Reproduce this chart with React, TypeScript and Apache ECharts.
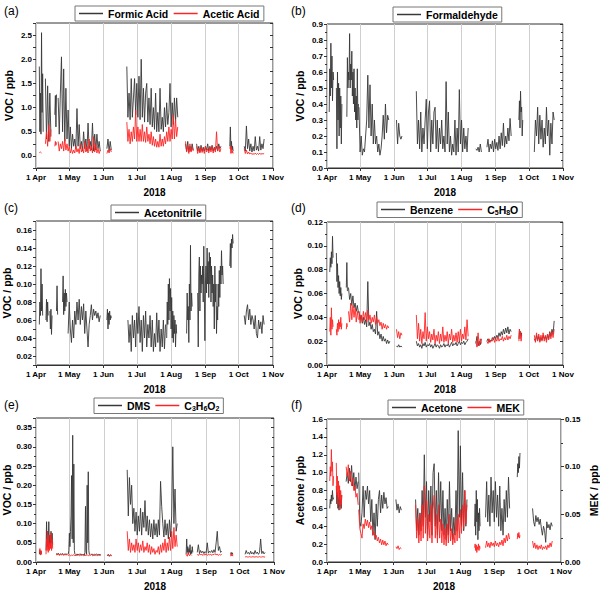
import { useEffect, useRef } from 'react';
import * as echarts from 'echarts';

// each segment: [start day after 1 Apr 2018, step in days, values]
type Seg = [number, number, number[]];

const monthNames = ['Jan', 'Feb', 'Mar', 'Apr', 'May', 'Jun', 'Jul', 'Aug', 'Sep', 'Oct', 'Nov', 'Dec'];
const panelTitles = ['(a)', '(b)', '(c)', '(d)', '(e)', '(f)'];

const formicAcid: Seg[] = [
  [3, 0.5, [1.85, 0.5, 1.3, 0.45, 2.55, 0.9, 1.7, 0.5]],
  [8.5, 1, [1.6, 0.35, 1.45, 0.3, 1.3, 0.4]],
  [17, 0.5, [0.85, 1.25, 0.6, 1.27]],
  [20, 1, [1.2, 0.45, 1.3, 2.05, 0.5, 1.8, 0.3, 1.4, 0.35, 0.95, 0.2, 0.6, 0.15, 0.45, 0.2, 0.35, 0.15, 0.98, 0.2, 0.65, 0.15, 0.3, 0.1, 0.5, 0.15, 0.35, 0.1, 0.68, 0.15, 0.3, 0.12, 0.68, 0.1, 0.45, 0.12, 0.45, 0.15, 0.3, 0.1]],
  [64, 1, [0.15, 0.35, 0.1, 0.3, 0.12]],
  [82, 1, [1.85, 0.8, 1.3, 0.75, 1.6, 0.8, 1.2, 1.6, 0.85, 1.5, 0.8, 1.65, 0.75, 2.0, 0.8, 1.4, 0.7, 1.3, 1.5, 0.7, 1.2, 0.65, 1.4, 0.6, 1.0, 0.55, 1.3, 0.5, 0.9, 0.5, 1.4, 0.55, 0.8, 0.5, 1.0, 0.6, 1.1, 0.65, 0.9, 1.5, 0.6, 1.1, 0.65, 1.2, 0.7, 1.2, 0.8]],
  [135, 1, [0.25, 0.1, 0.3, 0.08, 0.2, 0.1, 0.25, 0.12]],
  [145, 1, [0.25, 0.1, 0.2, 0.08, 0.22, 0.1, 0.18, 0.1, 0.2, 0.12, 0.25, 0.1, 0.2, 0.12, 0.22, 0.1, 0.18, 0.12, 0.2, 0.1, 0.25, 0.15, 0.2]],
  [175, 0.5, [0.2, 0.6, 0.15, 0.3, 0.12, 0.2, 0.1]],
  [188, 1, [0.2, 0.1, 0.62, 0.15, 0.35, 0.1, 0.25, 0.08, 0.2, 0.1, 0.4, 0.12, 0.2, 0.1, 0.4, 0.12, 0.25, 0.15, 0.35]],
];

const aceticAcid: Seg[] = [
  [3, 1, [0.07, 0.08, 0.06]],
  [8.5, 1, [0.25, 0.5, 0.2, 0.65, 0.3, 0.55]],
  [17, 0.5, [0.2, 0.3, 0.22, 0.28]],
  [20, 1, [0.3, 0.1, 0.25, 0.15, 0.3, 0.1, 0.35, 0.12, 0.25, 0.1, 0.2, 0.06, 0.15, 0.05, 0.12, 0.06, 0.2, 0.08, 0.15, 0.05, 0.25, 0.08, 0.15, 0.06, 0.3, 0.08, 0.2, 0.06, 0.35, 0.1, 0.2, 0.06, 0.4, 0.08, 0.25, 0.06, 0.15, 0.05, 0.12]],
  [64, 1, [0.05, 0.12, 0.06, 0.15, 0.08]],
  [82, 1, [0.7, 0.3, 0.55, 0.25, 0.5, 0.3, 0.6, 0.35, 0.95, 0.3, 0.6, 0.3, 0.55, 0.3, 0.65, 0.3, 0.5, 0.28, 0.6, 0.3, 0.45, 0.25, 0.5, 0.22, 0.4, 0.2, 0.35, 0.18, 0.3, 0.18, 0.45, 0.2, 0.35, 0.2, 0.4, 0.25, 0.5, 0.3, 0.6, 0.3, 0.55, 0.35, 0.85, 0.35, 0.75, 0.4, 0.6]],
  [135, 1, [0.3, 0.08, 0.2, 0.05, 0.25, 0.08, 0.18, 0.1]],
  [145, 1, [0.2, 0.05, 0.15, 0.06, 0.18, 0.07, 0.15, 0.05, 0.2, 0.08, 0.15, 0.06, 0.18, 0.08, 0.2, 0.06, 0.15, 0.08, 0.5, 0.1, 0.2, 0.08, 0.15]],
  [175, 0.5, [0.15, 0.2, 0.05, 0.18, 0.06, 0.1, 0.05]],
  [188, 1, [0.15, 0.05, 0.12, 0.04, 0.08, 0.04, 0.06, 0.03, 0.05, 0.03, 0.06, 0.03, 0.05, 0.03, 0.06, 0.03, 0.05, 0.04, 0.05]],
];

const formaldehyde: Seg[] = [
  [2, 0.5, [0.35, 0.62, 0.45, 0.78, 0.5, 0.7, 0.42, 0.6, 0.55]],
  [8.5, 0.5, [0.5, 0.12, 0.6, 0.3, 0.53, 0.2, 0.5, 0.25, 0.45, 0.15, 0.4]],
  [18, 0.5, [0.32, 0.69, 0.5, 0.6, 0.55, 0.84, 0.5, 0.65, 0.55, 0.73, 0.45, 0.6, 0.4, 0.62, 0.35, 0.5, 0.3, 0.45, 0.25, 0.62, 0.3, 0.4]],
  [29, 1, [0.38, 0.1, 0.2, 0.08, 0.12, 0.1, 0.2, 0.3, 0.58, 0.25, 0.52, 0.2, 0.4, 0.15, 0.3, 0.15, 0.2, 0.1, 0.15, 0.08, 0.12, 0.2, 0.33, 0.18, 0.4, 0.22, 0.33, 0.3]],
  [63, 1, [0.3, 0.15, 0.28, 0.2, 0.18, 0.2]],
  [81, 1, [0.48, 0.15, 0.3, 0.12, 0.35, 0.1, 0.25, 0.15, 0.3, 0.43, 0.12, 0.35, 0.42, 0.1, 0.3, 0.15, 0.35, 0.38, 0.12, 0.3, 0.1, 0.25, 0.15, 0.3, 0.12, 0.2, 0.1, 0.54, 0.15, 0.35, 0.1, 0.2, 0.08, 0.15, 0.1, 0.3, 0.08, 0.25, 0.1, 0.49, 0.15, 0.3, 0.1, 0.25, 0.12, 0.2, 0.1, 0.25]],
  [135, 1, [0.12, 0.11, 0.13, 0.1, 0.15, 0.1]],
  [145, 1, [0.13, 0.18, 0.1, 0.15, 0.12, 0.17, 0.1, 0.18, 0.12, 0.16, 0.11, 0.2, 0.12, 0.22, 0.14, 0.28, 0.13, 0.2, 0.15, 0.25, 0.17, 0.31, 0.2]],
  [174, 0.5, [0.3, 0.42, 0.25, 0.48, 0.35, 0.38, 0.2, 0.3]],
  [188, 1, [0.1, 0.3, 0.2, 0.38, 0.15, 0.33, 0.18, 0.3, 0.13, 0.25, 0.15, 0.38, 0.2, 0.3, 0.08, 0.28, 0.15, 0.35, 0.3]],
];

const acetonitrile: Seg[] = [
  [3, 0.5, [0.055, 0.08, 0.065, 0.117, 0.07, 0.1, 0.065]],
  [9, 0.5, [0.06, 0.083, 0.058, 0.08, 0.065]],
  [12.5, 0.5, [0.07, 0.05, 0.072, 0.044, 0.065]],
  [18.5, 0.5, [0.07, 0.098, 0.066]],
  [24, 0.5, [0.08, 0.109, 0.066, 0.09, 0.07, 0.094, 0.075, 0.09, 0.08]],
  [29, 1, [0.045, 0.08, 0.05, 0.035, 0.06, 0.04, 0.07, 0.055, 0.08, 0.06, 0.083, 0.055, 0.075, 0.06, 0.078, 0.045, 0.07, 0.05, 0.03, 0.055, 0.065, 0.077, 0.06, 0.072, 0.065, 0.07, 0.062, 0.068, 0.058, 0.065]],
  [64, 0.5, [0.06, 0.072, 0.05, 0.068, 0.055, 0.07, 0.06, 0.065, 0.062]],
  [83, 1, [0.06, 0.035, 0.055, 0.025, 0.065, 0.04, 0.06, 0.03, 0.068, 0.045, 0.075, 0.035, 0.06, 0.025, 0.065, 0.04, 0.07, 0.03, 0.055, 0.04, 0.065, 0.03, 0.06, 0.025, 0.045, 0.03, 0.068, 0.035, 0.06, 0.025, 0.05, 0.03, 0.06, 0.028, 0.055]],
  [118, 0.5, [0.04, 0.08, 0.055, 0.1, 0.06, 0.106, 0.07, 0.095, 0.05, 0.085, 0.04, 0.07, 0.035, 0.065, 0.045, 0.06, 0.03, 0.055, 0.045]],
  [136, 0.5, [0.045, 0.09, 0.06, 0.075, 0.035, 0.1, 0.06, 0.143, 0.07, 0.09, 0.075]],
  [146, 0.5, [0.09, 0.03, 0.11, 0.13, 0.07, 0.12, 0.09, 0.11, 0.1, 0.12, 0.08, 0.142, 0.09, 0.037, 0.1, 0.12, 0.09, 0.14, 0.1, 0.125, 0.085, 0.135, 0.1, 0.13, 0.08, 0.12, 0.09, 0.11, 0.075, 0.1, 0.05, 0.12, 0.08, 0.1, 0.045, 0.075, 0.06, 0.1, 0.075, 0.115, 0.085, 0.12, 0.1, 0.137, 0.11, 0.12, 0.1]],
  [175, 0.5, [0.12, 0.145, 0.118, 0.15, 0.14, 0.155, 0.145]],
  [188, 1, [0.065, 0.055, 0.07, 0.077, 0.06, 0.072, 0.055, 0.065, 0.06, 0.05, 0.065, 0.045, 0.04, 0.06, 0.05, 0.058, 0.045, 0.065, 0.055]],
];

const benzene: Seg[] = [
  [2.5, 0.5, [0.078, 0.09, 0.082, 0.095, 0.085, 0.108, 0.09]],
  [8.5, 0.5, [0.094, 0.07, 0.085, 0.065, 0.075, 0.06, 0.07, 0.058, 0.065, 0.055, 0.06]],
  [17.5, 0.5, [0.065, 0.086, 0.062]],
  [19.5, 1, [0.065, 0.055, 0.06, 0.05, 0.058, 0.048, 0.052, 0.045, 0.05, 0.044]],
  [29, 1, [0.045, 0.038, 0.042, 0.035, 0.04, 0.034, 0.038, 0.032, 0.07, 0.033, 0.036, 0.03, 0.034, 0.028, 0.03, 0.026, 0.045, 0.025, 0.028, 0.022, 0.026, 0.02, 0.024, 0.02, 0.022, 0.018, 0.021, 0.018, 0.02]],
  [63, 1, [0.016, 0.015, 0.017, 0.015, 0.016, 0.015]],
  [81, 1, [0.02, 0.016, 0.018, 0.015, 0.017, 0.014, 0.018, 0.016, 0.019, 0.015, 0.017, 0.016, 0.018, 0.015, 0.017, 0.014, 0.016, 0.018, 0.015, 0.017, 0.016, 0.014, 0.017, 0.015, 0.016, 0.018, 0.015, 0.017, 0.016, 0.018, 0.015, 0.017, 0.019, 0.016, 0.018, 0.017, 0.019, 0.016, 0.018, 0.02, 0.017, 0.019, 0.018, 0.02, 0.017, 0.019, 0.02, 0.022]],
  [135, 1, [0.018, 0.024, 0.016, 0.02, 0.017, 0.022]],
  [145, 1, [0.02, 0.022, 0.019, 0.021, 0.02, 0.023, 0.021, 0.024, 0.022, 0.025, 0.023, 0.027, 0.024, 0.028, 0.025, 0.03, 0.026, 0.031, 0.027, 0.032, 0.026, 0.03, 0.028]],
  [174, 0.5, [0.022, 0.03, 0.025, 0.028, 0.024, 0.027]],
  [188, 1, [0.022, 0.02, 0.025, 0.021, 0.024, 0.02, 0.023, 0.021, 0.025, 0.022, 0.024, 0.021, 0.026, 0.022, 0.028, 0.024, 0.03, 0.026, 0.037]],
];

const c5h8o: Seg[] = [
  [2.5, 0.5, [0.028, 0.04, 0.025, 0.048, 0.03, 0.038, 0.032]],
  [8.5, 0.5, [0.03, 0.025, 0.035, 0.028, 0.038, 0.03, 0.036, 0.032, 0.04, 0.03, 0.035]],
  [17.5, 0.5, [0.03, 0.035, 0.032]],
  [19.5, 1, [0.045, 0.036, 0.052, 0.038, 0.05, 0.04, 0.048, 0.036, 0.045, 0.038]],
  [29, 1, [0.045, 0.035, 0.042, 0.036, 0.045, 0.038, 0.044, 0.036, 0.046, 0.038, 0.042, 0.035, 0.04, 0.036, 0.042, 0.034, 0.04, 0.035, 0.038, 0.033, 0.036, 0.03, 0.035, 0.031, 0.034, 0.03, 0.033, 0.031]],
  [63, 1, [0.03, 0.023, 0.028, 0.022, 0.027, 0.025]],
  [81, 1, [0.042, 0.022, 0.035, 0.02, 0.03, 0.018, 0.028, 0.022, 0.044, 0.02, 0.032, 0.022, 0.028, 0.019, 0.026, 0.021, 0.03, 0.018, 0.025, 0.02, 0.028, 0.018, 0.026, 0.02, 0.032, 0.019, 0.025, 0.02, 0.028, 0.018, 0.026, 0.021, 0.03, 0.019, 0.025, 0.02, 0.027, 0.019, 0.028, 0.02, 0.03, 0.02, 0.026, 0.022, 0.032, 0.021, 0.038, 0.024]],
  [135, 1, [0.02, 0.015, 0.027, 0.016, 0.022, 0.018]],
  [145, 1, [0.02, 0.018, 0.022, 0.019, 0.021, 0.02, 0.023, 0.019, 0.022, 0.02, 0.024, 0.02, 0.022, 0.021, 0.024, 0.02, 0.023, 0.021, 0.025, 0.021, 0.024, 0.022, 0.025]],
  [174, 0.5, [0.02, 0.03, 0.022, 0.028, 0.02, 0.025]],
  [188, 1, [0.025, 0.019, 0.027, 0.02, 0.026, 0.019, 0.025, 0.02, 0.027, 0.02, 0.025, 0.019, 0.026, 0.021, 0.027, 0.022, 0.028, 0.023, 0.03]],
];

const dms: Seg[] = [
  [3, 0.5, [0.02, 0.03, 0.022, 0.028, 0.02]],
  [9, 0.5, [0.03, 0.105, 0.04, 0.08, 0.035, 0.105, 0.045, 0.07, 0.04, 0.08, 0.05, 0.075, 0.045]],
  [18, 1, [0.022, 0.02, 0.023, 0.019, 0.021, 0.02, 0.022, 0.019, 0.021, 0.02, 0.021]],
  [29, 0.5, [0.02, 0.03, 0.075, 0.04, 0.08, 0.12, 0.225, 0.06, 0.33, 0.05, 0.255, 0.03, 0.02]],
  [35.5, 0.5, [0.019, 0.018, 0.02, 0.018, 0.021, 0.019, 0.018, 0.02, 0.019, 0.021, 0.018, 0.02, 0.019, 0.018, 0.02, 0.019, 0.018, 0.025, 0.145, 0.03, 0.02, 0.2, 0.05, 0.235, 0.03, 0.02, 0.019, 0.02]],
  [49.5, 1, [0.019, 0.021, 0.018, 0.02, 0.019, 0.021, 0.018, 0.02, 0.019, 0.018]],
  [64, 1, [0.016, 0.02, 0.015, 0.019, 0.017]],
  [82, 1, [0.24, 0.12, 0.22, 0.15, 0.2, 0.1, 0.14, 0.08, 0.13, 0.07, 0.12, 0.08, 0.14, 0.07, 0.13, 0.09, 0.16, 0.08, 0.12, 0.07, 0.11, 0.065, 0.1, 0.06, 0.11, 0.07, 0.1, 0.065, 0.11, 0.07, 0.21, 0.145, 0.1, 0.065, 0.11, 0.07, 0.1, 0.06, 0.11, 0.065, 0.12, 0.3, 0.1, 0.19, 0.08, 0.1]],
  [135, 0.5, [0.02, 0.06, 0.025, 0.04, 0.02, 0.035, 0.025, 0.045, 0.02, 0.03, 0.022, 0.04, 0.025]],
  [145, 1, [0.025, 0.045, 0.022, 0.03, 0.024, 0.028, 0.022, 0.027, 0.024, 0.05, 0.023, 0.028, 0.025, 0.03, 0.024, 0.032, 0.025, 0.05, 0.08, 0.03, 0.04, 0.025, 0.028]],
  [175, 0.5, [0.02, 0.025, 0.021, 0.024, 0.02]],
  [188, 1, [0.02, 0.03, 0.022, 0.025, 0.02, 0.028, 0.021, 0.025, 0.02, 0.03, 0.022, 0.026, 0.02, 0.025, 0.06, 0.022, 0.028, 0.021, 0.025]],
];

const c3h6o2: Seg[] = [
  [3, 0.5, [0.025, 0.035, 0.018, 0.03, 0.02]],
  [9, 0.5, [0.02, 0.06, 0.03, 0.08, 0.025, 0.07, 0.03, 0.05, 0.035, 0.075, 0.03, 0.06, 0.035]],
  [18, 1, [0.02, 0.018, 0.022, 0.017, 0.02, 0.018, 0.021, 0.017, 0.02, 0.018, 0.02, 0.017, 0.019, 0.016, 0.018, 0.017, 0.019, 0.016, 0.018, 0.017, 0.019, 0.016, 0.018, 0.017, 0.02, 0.016, 0.018, 0.017, 0.019, 0.016, 0.018, 0.017, 0.02, 0.016, 0.018, 0.017, 0.019, 0.016, 0.018, 0.017, 0.018]],
  [64, 1, [0.016, 0.019, 0.015, 0.018, 0.016]],
  [82, 1, [0.08, 0.03, 0.06, 0.025, 0.05, 0.03, 0.045, 0.025, 0.06, 0.03, 0.05, 0.025, 0.045, 0.03, 0.055, 0.025, 0.04, 0.03, 0.05, 0.025, 0.045, 0.02, 0.04, 0.025, 0.035, 0.02, 0.03, 0.025, 0.04, 0.02, 0.045, 0.025, 0.05, 0.03, 0.06, 0.025, 0.05, 0.03, 0.065, 0.03, 0.08, 0.035, 0.09, 0.04, 0.07, 0.04]],
  [135, 1, [0.02, 0.015, 0.025, 0.016, 0.02, 0.017]],
  [145, 1, [0.02, 0.017, 0.022, 0.018, 0.021, 0.017, 0.02, 0.018, 0.022, 0.017, 0.02, 0.018, 0.021, 0.017, 0.02, 0.019, 0.022, 0.018, 0.021, 0.017, 0.02, 0.018, 0.02]],
  [175, 0.5, [0.015, 0.022, 0.016, 0.02, 0.015]],
  [188, 1, [0.013, 0.014, 0.013, 0.013, 0.014, 0.013, 0.013, 0.014, 0.013, 0.013, 0.014, 0.013, 0.013, 0.014, 0.013, 0.013, 0.014, 0.013, 0.013]],
];

const acetone: Seg[] = [
  [2.5, 0.5, [0.6, 0.7, 0.65, 0.75, 0.68, 0.8, 0.7, 0.72]],
  [8.5, 0.5, [0.85, 0.65, 0.78, 0.6, 0.72, 0.58, 0.8, 0.62, 0.7, 0.6, 0.75]],
  [17.5, 1, [0.9, 1.0, 0.88, 1.05, 0.9, 1.08, 0.85, 1.0, 0.8, 0.95, 0.82, 0.9]],
  [29, 1, [1.0, 0.45, 0.4, 0.55, 0.85, 0.5, 0.8, 0.7, 0.85, 0.65, 0.8, 0.45, 0.7, 0.3, 0.55, 0.25, 0.65, 0.4, 0.7, 0.8, 0.55, 0.75, 0.6, 0.78, 0.65, 0.72, 0.6, 0.62]],
  [63, 1, [0.7, 0.58, 0.65, 0.55, 0.62, 0.58]],
  [81, 1, [0.7, 0.35, 0.6, 0.3, 0.55, 0.35, 0.8, 0.4, 1.2, 0.5, 0.9, 0.3, 0.8, 0.45, 0.85, 0.3, 1.0, 1.1, 0.4, 0.8, 0.3, 1.0, 0.45, 0.9, 0.35, 0.8, 0.3, 0.6, 0.25, 0.7, 0.3, 0.9, 0.35, 0.6, 0.25, 0.5, 0.3, 0.8, 0.35, 1.47, 0.5, 1.3, 0.4, 1.0, 0.35, 0.8, 0.4, 0.7]],
  [135, 0.5, [0.4, 0.65, 0.3, 0.8, 0.45, 0.7, 0.25, 0.55, 0.35, 0.6, 0.4]],
  [145, 1, [0.5, 0.9, 0.45, 0.75, 0.4, 0.95, 0.55, 0.8, 0.45, 0.9, 0.5, 0.75, 0.4, 0.85, 0.35, 0.6, 0.3, 0.7, 0.45, 0.8, 0.5, 0.95, 0.6]],
  [174, 0.5, [0.95, 1.1, 1.0, 1.18, 1.05, 1.22]],
  [188, 1, [0.6, 0.45, 0.4, 0.52, 0.45, 0.5, 0.42, 0.48, 0.38, 0.3, 0.4, 0.35, 0.22, 0.45, 0.38, 0.42, 0.36, 0.44, 0.4]],
];

const mek: Seg[] = [
  [2.5, 0.5, [0.085, 0.1, 0.09, 0.118, 0.095, 0.105, 0.08, 0.09]],
  [8.5, 0.5, [0.104, 0.07, 0.09, 0.06, 0.085, 0.065, 0.08, 0.055, 0.075, 0.06, 0.07]],
  [17.5, 1, [0.1, 0.09, 0.102, 0.085, 0.095, 0.08, 0.088, 0.075, 0.08, 0.068, 0.072, 0.06]],
  [29, 1, [0.055, 0.035, 0.03, 0.025, 0.04, 0.035, 0.045, 0.038, 0.044, 0.036, 0.042, 0.034, 0.038, 0.028, 0.032, 0.025, 0.028, 0.022, 0.026, 0.02, 0.024, 0.018, 0.023, 0.018, 0.022, 0.017, 0.02, 0.018]],
  [63, 1, [0.016, 0.014, 0.017, 0.013, 0.015, 0.014]],
  [81, 1, [0.06, 0.025, 0.045, 0.02, 0.05, 0.022, 0.06, 0.025, 0.08, 0.03, 0.065, 0.022, 0.05, 0.025, 0.06, 0.02, 0.055, 0.07, 0.025, 0.05, 0.02, 0.06, 0.025, 0.045, 0.02, 0.04, 0.018, 0.035, 0.017, 0.04, 0.02, 0.05, 0.022, 0.035, 0.018, 0.03, 0.02, 0.045, 0.022, 0.05, 0.025, 0.055, 0.03, 0.06, 0.035, 0.075, 0.04, 0.06]],
  [135, 0.5, [0.015, 0.019, 0.012, 0.018, 0.01, 0.016, 0.013, 0.019, 0.012, 0.017, 0.014]],
  [145, 1, [0.015, 0.022, 0.016, 0.02, 0.015, 0.021, 0.017, 0.02, 0.016, 0.022, 0.017, 0.02, 0.016, 0.021, 0.018, 0.023, 0.017, 0.025, 0.02, 0.028, 0.022, 0.03, 0.024]],
  [174, 0.5, [0.024, 0.03, 0.026, 0.031, 0.025, 0.028]],
  [188, 1, [0.022, 0.015, 0.02, 0.014, 0.018, 0.013, 0.017, 0.014, 0.018, 0.013, 0.016, 0.014, 0.017, 0.013, 0.018, 0.015, 0.02, 0.016, 0.022]],
];

const DAY = 86400000;
const t0 = new Date(2018, 3, 1).getTime();
const t1 = new Date(2018, 10, 1).getTime();

const toData = (segs: Seg[]) => {
  const out: (number | null)[][] = [];
  segs.forEach(([start, step, vals]) => {
    vals.forEach((v, i) => out.push([t0 + (start + i * step) * DAY, v]));
    out.push([t0 + (start + vals.length * step) * DAY, null]);
  });
  return out;
};

const FONT = 'Arial, "Liberation Sans", sans-serif';
const BLACK = '#383838';
const RED = '#ff2424';

// plot areas in px
const grids = [
  { left: 36, top: 23, width: 237, height: 145 },
  { left: 327, top: 24, width: 236, height: 144 },
  { left: 36, top: 221, width: 237, height: 144 },
  { left: 327, top: 222, width: 236, height: 143 },
  { left: 36, top: 418, width: 238, height: 144 },
  { left: 327, top: 419, width: 236, height: 143 },
];
const titlePos = [[4, 5], [291, 5], [4, 202], [291, 202], [4, 399], [291, 399]];
const legendPos = [[75, 6], [393, 7], [111, 205], [377, 202], [94, 398], [388, 400]];

const near = (v: number, step: number) => Math.abs(v / step - Math.round(v / step)) < 1e-6;

const yAxis = (gridIndex: number, min: number, max: number, interval: number,
  fmt: (v: number) => string, minor: number, name?: string, right = false, mirror = false) => ({
  type: 'value',
  gridIndex,
  min,
  max,
  interval,
  position: right ? 'right' : 'left',
  name,
  nameLocation: 'middle',
  nameGap: right ? 27 : 22,
  nameRotate: 90,
  nameTextStyle: { fontFamily: FONT, fontWeight: 'bold', fontSize: 10.5, color: '#000' },
  axisLine: { show: false },
  axisTick: { show: true, inside: mirror, length: 3, lineStyle: { color: '#333' } },
  minorTick: { show: minor > 0, splitNumber: minor || 2, length: 2, lineStyle: { color: '#333' } },
  axisLabel: { show: !mirror, formatter: fmt, fontFamily: FONT, fontWeight: 'bold', fontSize: 8, color: '#000', margin: 4 },
  splitLine: { show: false },
});

const xAxis = (gridIndex: number) => ({
  type: 'time',
  gridIndex,
  min: t0,
  max: t1,
  splitNumber: 7,
  name: '2018',
  nameLocation: 'middle',
  nameGap: 19,
  nameTextStyle: { fontFamily: FONT, fontWeight: 'bold', fontSize: 10, color: '#000' },
  axisLine: { show: true, onZero: false, lineStyle: { color: '#333' } },
  axisTick: { show: true, length: 3, lineStyle: { color: '#333' } },
  axisLabel: {
    formatter: (v: number) => {
      const d = new Date(v);
      return d.getDate() + ' ' + monthNames[d.getMonth()];
    },
    showMinLabel: true,
    showMaxLabel: true,
    fontFamily: FONT, fontWeight: 'bold', fontSize: 8, color: '#000', margin: 5,
  },
  splitLine: { show: true, lineStyle: { color: '#cfcfcf', width: 1 } },
});

const line = (name: string, segs: Seg[], color: string, axis: number, yIdx: number) => ({
  name,
  type: 'line',
  xAxisIndex: axis,
  yAxisIndex: yIdx,
  data: toData(segs),
  symbol: 'none',
  connectNulls: false,
  lineStyle: { color, width: 0.9 },
  itemStyle: { color },
});

const legendName = (n: string) => {
  if (n === 'C5H8O') return '{n|C}{s|5}{n|H}{s|8}{n|O}';
  if (n === 'C3H6O2') return '{n|C}{s|3}{n|H}{s|6}{n|O}{s|2}';
  return '{n|' + n + '}';
};

const panelSeries = [
  ['Formic Acid', 'Acetic Acid'],
  ['Formaldehyde'],
  ['Acetonitrile'],
  ['Benzene', 'C5H8O'],
  ['DMS', 'C3H6O2'],
  ['Acetone', 'MEK'],
];

const App = () => {
  const chartRef = useRef<HTMLDivElement>(null);

  useEffect(() => {
    if (!chartRef.current) return;
    document.body.style.margin = '0';
    const chart = echarts.init(chartRef.current, undefined, { renderer: 'svg' });

    const f1 = (v: number) => v.toFixed(1);
    const f2 = (v: number) => v.toFixed(2);

    const option = {
      animation: false,
      title: panelTitles.map((t, i) => ({
        text: t, left: titlePos[i][0], top: titlePos[i][1], padding: 0,
        textStyle: { fontFamily: FONT, fontWeight: 'normal', fontSize: 12, color: '#000' },
      })),
      legend: panelSeries.map((names, i) => ({
        data: names.map((n) => ({ name: n, icon: 'rect' })),
        left: legendPos[i][0],
        top: legendPos[i][1],
        orient: 'horizontal',
        itemWidth: 24,
        itemHeight: 1.5,
        itemGap: 5,
        padding: [2, 4, 2, 4],
        borderColor: '#777',
        borderWidth: 1,
        backgroundColor: '#fff',
        formatter: legendName,
        textStyle: {
          rich: {
            n: { fontFamily: FONT, fontWeight: 'bold', fontSize: 10.5, color: '#000' },
            s: { fontFamily: FONT, fontWeight: 'bold', fontSize: 7, color: '#000', padding: [5, 0, 0, 0] },
          },
        },
      })),
      grid: grids.map((g) => ({ ...g, show: true, borderColor: '#333', borderWidth: 1, backgroundColor: 'transparent' })),
      xAxis: grids.map((_, i) => xAxis(i)),
      yAxis: [
        yAxis(0, -0.25, 2.75, 0.25, (v) => (v >= 0 && near(v, 0.5) ? v.toFixed(1) : ''), 0, 'VOC / ppb'),
        yAxis(0, -0.25, 2.75, 0.25, f1, 0, undefined, true, true),
        yAxis(1, 0, 0.9, 0.1, f1, 2, 'VOC / ppb'),
        yAxis(1, 0, 0.9, 0.1, f1, 2, undefined, true, true),
        yAxis(2, 0.01, 0.17, 0.01, (v) => (Math.round(v * 100) % 2 === 0 ? v.toFixed(2) : ''), 0, 'VOC / ppb'),
        yAxis(2, 0.01, 0.17, 0.01, f2, 0, undefined, true, true),
        yAxis(3, 0, 0.12, 0.02, f2, 2, 'VOC / ppb'),
        yAxis(3, 0, 0.12, 0.02, f2, 2, undefined, true, true),
        yAxis(4, 0, 0.375, 0.05, (v) => (near(v, 0.05) ? v.toFixed(2) : ''), 2, 'VOC / ppb'),
        yAxis(4, 0, 0.375, 0.05, f2, 2, undefined, true, true),
        yAxis(5, 0, 1.6, 0.2, f1, 2, 'Acetone / ppb'),
        yAxis(5, 0, 0.15, 0.05, f2, 2, 'MEK / ppb', true, false),
      ],
      series: [
        line('Formic Acid', formicAcid, BLACK, 0, 0),
        line('Acetic Acid', aceticAcid, RED, 0, 0),
        line('Formaldehyde', formaldehyde, BLACK, 1, 2),
        line('Acetonitrile', acetonitrile, BLACK, 2, 4),
        line('Benzene', benzene, BLACK, 3, 6),
        line('C5H8O', c5h8o, RED, 3, 6),
        line('DMS', dms, BLACK, 4, 8),
        line('C3H6O2', c3h6o2, RED, 4, 8),
        line('Acetone', acetone, BLACK, 5, 10),
        line('MEK', mek, RED, 5, 11),
      ],
    };

    chart.setOption(option as any);

    const handleResize = () => chart.resize();
    window.addEventListener('resize', handleResize);
    return () => {
      window.removeEventListener('resize', handleResize);
      chart.dispose();
    };
  }, []);

  return <div ref={chartRef} style={{ width: '600px', height: '592px' }} />;
};

export default App;
